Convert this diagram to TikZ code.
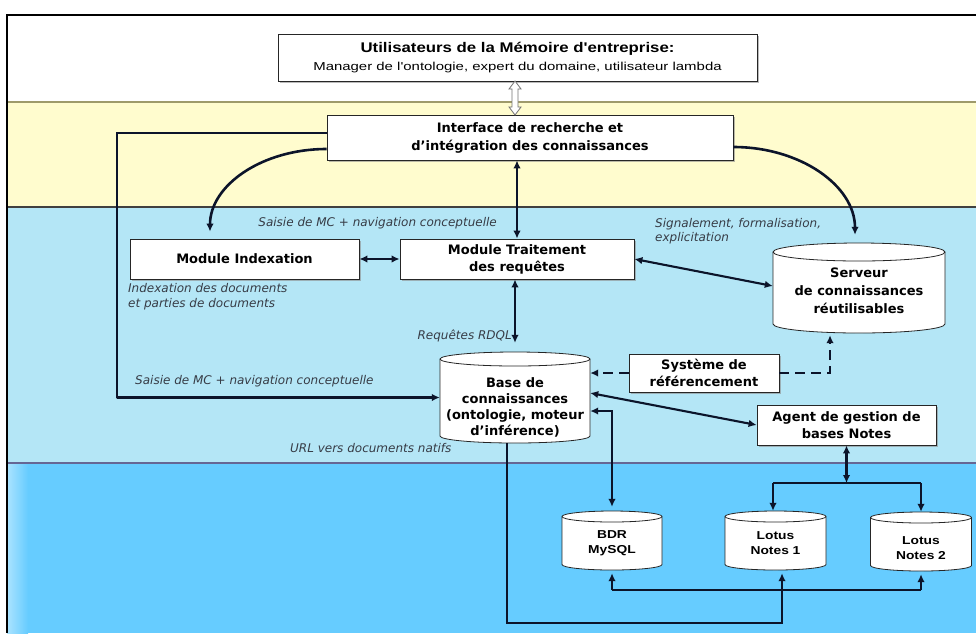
\documentclass[tikz,border=0pt]{standalone}
\usepackage{fontspec}
\setmainfont{DejaVu Sans}
\newfontfamily\arialw{Liberation Sans}[FakeStretch=1.2]
\newfontfamily\arialww{Liberation Sans}[FakeStretch=1.3]
\usetikzlibrary{arrows.meta,shadows}

\definecolor{bandyellow}{RGB}{255,252,206}
\definecolor{bandlight}{RGB}{180,230,246}
\definecolor{banddeep}{RGB}{102,204,255}
\definecolor{linkc}{RGB}{12,20,42}
\definecolor{labelc}{RGB}{55,60,70}

\tikzset{
  >={Latex[length=8pt,width=7.5pt]},
  box/.style={draw=black!85, fill=white, line width=0.8pt, inner sep=0pt, align=center,
    font=\bfseries\fontsize{13}{17}\selectfont,
    drop shadow={shadow xshift=1.6pt, shadow yshift=-1.6pt, fill=black!45, opacity=0.6}},
  cylbody/.style={inner sep=0pt, draw=none},
  cyltext/.style={align=center, inner sep=0pt, font=\bfseries\fontsize{13}{16}\selectfont},
  dbtext/.style={align=center, inner sep=0pt, font=\arialw\bfseries\fontsize{11.5}{15}\selectfont},
  lbl/.style={inner sep=0pt, align=left, text=labelc, font=\itshape\fontsize{12}{15}\selectfont},
  lnk/.style={draw=linkc, line width=2.1pt},
  arr/.style={lnk, ->},
  darr/.style={lnk, <->},
  dsh/.style={lnk, line width=2.6pt, dash pattern=on 10pt off 6pt},
  curvy/.style={lnk, line width=2.6pt, ->},
}

% cylinder: name, cx, cy, width, height, ellipse radius
\newcommand\dbcyl[6]{%
  \path[draw=black!85, line width=0.8pt, fill=white]
    ({#2-#4/2},{#3-#5/2+#6}) -- ({#2-#4/2},{#3+#5/2-#6})
    arc[start angle=180, end angle=360, x radius=#4/2*1pt, y radius=#6*1pt]
    -- ({#2+#4/2},{#3-#5/2+#6})
    arc[start angle=0, end angle=180, x radius=#4/2*1pt, y radius=#6*1pt] -- cycle;
  \draw[black!85, line width=0.8pt] ({#2-#4/2},{#3-#5/2+#6})
    arc[start angle=180, end angle=360, x radius=#4/2*1pt, y radius=#6*1pt];
  \node[cylbody, minimum width=#4pt, minimum height=#5pt] (#1) at (#2,#3) {};
}

\begin{document}
\begin{tikzpicture}[x=1pt, y=-1pt]
\useasboundingbox (0,0) rectangle (976,633);

% horizontal bands
\fill[white] (7,15) rectangle (976,102);
\fill[bandyellow] (7,102) rectangle (976,207);
\fill[bandlight] (7,207) rectangle (976,463);
\fill[banddeep] (7,463) rectangle (976,633);
\shade[left color=banddeep!55!white, right color=banddeep] (7,463) rectangle (28,633);
\draw[black!45!olive!60, line width=1.6pt] (7,102) -- (976,102);
\draw[black!75, line width=1.4pt] (7,207) -- (976,207);
\draw[black!70!blue!60, line width=1.4pt] (7,463) -- (976,463);
\draw[black, line width=1.3pt] (976,15) -- (7,15) -- (7,633);

% boxes
\node[box, minimum width=479pt, minimum height=47pt] (users) at (517.5,57.5)
  {{\arialw\bfseries\fontsize{14}{17}\selectfont Utilisateurs de la Mémoire d'entreprise:}\\[1pt]
   {\arialww\mdseries\fontsize{11.5}{14}\selectfont Manager de l'ontologie, expert du domaine, utilisateur lambda}};
\node[box, minimum width=406pt, minimum height=45pt, font=\bfseries\fontsize{13}{18}\selectfont]
  (iface) at (530,137.5) {Interface de recherche et\\d'intégration des connaissances};
\node[box, minimum width=229pt, minimum height=40pt] (idx) at (244.5,259) {Module Indexation};
\node[box, minimum width=234pt, minimum height=40pt] (trt) at (517,259) {Module Traitement\\des requêtes};
\node[box, minimum width=150pt, minimum height=38pt] (sys) at (704,373) {Système de\\référencement};
\node[box, minimum width=179pt, minimum height=40pt] (agent) at (846.5,425) {Agent de gestion de\\bases Notes};

% cylinders
\dbcyl{srv}{859}{288}{172}{90}{9}
\node[cyltext, font=\bfseries\fontsize{13}{18}\selectfont] (srv-t) at ([yshift=-3pt]srv.center)
  {Serveur\\de connaissances\\réutilisables};
\dbcyl{base}{515}{397.5}{150}{91}{7}
\node[cyltext] (base-t) at ([yshift=-10pt]base.center)
  {Base de\\connaissances\\(ontologie, moteur\\d'inférence)};
\dbcyl{bdr}{612}{540.5}{100}{59}{5.5}
\node[dbtext] (bdr-t) at ([yshift=-3pt]bdr.center) {BDR\\MySQL};
\dbcyl{lot1}{775.5}{540.5}{101}{59}{5.5}
\node[dbtext] (lot1-t) at ([yshift=-3pt]lot1.center) {Lotus\\Notes 1};
\dbcyl{lot2}{921}{541.5}{101}{59}{5.5}
\node[dbtext] (lot2-t) at ([yshift=-7pt]lot2.center) {Lotus\\Notes 2};

% hollow two-way arrow between users and interface
\path[draw=black!55, fill=white, line width=0.8pt]
  (515,81) -- (521,89) -- (518,89) -- (518,107) -- (521,107) -- (515,115)
  -- (509,107) -- (512,107) -- (512,89) -- (509,89) -- cycle;

% labels
\node[lbl, anchor=mid east] (l-saisie1) at (497,224) {Saisie de MC + navigation conceptuelle};
\node[lbl, anchor=north west] (l-index) at (128,283) {Indexation des documents\\et parties de documents};
\node[lbl, anchor=mid east] (l-rdql) at (512,337) {Requêtes RDQL};
\node[lbl, anchor=north west, font=\itshape\fontsize{12}{14.5}\selectfont] (l-signal) at (655,218)
  {Signalement, formalisation,\\explicitation};
\node[lbl, anchor=mid west] (l-saisie2) at (135,382) {Saisie de MC + navigation conceptuelle};
\node[lbl, anchor=mid west] (l-url) at (290,450) {URL vers documents natifs};

% connectors
\coordinate (lft) at (117,398);
\draw[arr] ([yshift=4.5pt]iface.west) -| (lft) |- (base.west);
\draw[curvy] ([yshift=-11.5pt]iface.west) .. controls +(-65,0) and +(0,-46) ..
  ([xshift=-34.5pt,yshift=7pt]idx.north);
\draw[curvy] ([yshift=-9.5pt]iface.east) .. controls +(67,0) and +(0,-49) ..
  ([xshift=-4pt,yshift=8pt]srv.north);
\draw[darr] (trt.north) -- (trt.north |- iface.south);
\draw[darr] (idx.east) -- (trt.west);
\draw[darr] (trt.east) -- ([yshift=2pt]srv.west);
\draw[darr] (base.north |- trt.south) -- ([yshift=9pt]base.north);
\draw[dsh, ->] (sys.west) -- (sys.west -| base.east);
\draw[dsh, ->] (sys.east) -| ([xshift=-29pt,yshift=-2pt]srv.south);
\draw[darr] (agent.west) -- ([yshift=4.5pt]base.east);
\draw[darr] ([yshift=-13.5pt]base.east) -| ([yshift=4pt]bdr.north);

% lower links to the databases
\coordinate (bot) at (0,623);
\coordinate (bus) at (0,590);
\coordinate (bus2) at (0,483);
\coordinate (l1b) at ([xshift=6.5pt]lot1.south);
\coordinate (l1t) at ([xshift=-2.5pt]lot1.north);
\draw[lnk] (bdr.south |- bus) -- (lot2.south |- bus);
\draw[arr] ([xshift=-8pt]base.south) |- (l1b |- bot) -- ([yshift=-3pt]l1b);
\draw[arr] (bdr.south |- bus) -- ([yshift=-3pt]bdr.south);
\draw[arr] (lot2.south |- bus) -- ([yshift=-3pt]lot2.south);
\draw[darr] (agent.south) -- (agent.south |- bus2);
\draw[lnk] (l1t |- bus2) -- (lot2.north |- bus2);
\draw[arr] (l1t |- bus2) -- (l1t);
\draw[arr] (lot2.north |- bus2) -- (lot2.north);
\end{tikzpicture}
\end{document}
